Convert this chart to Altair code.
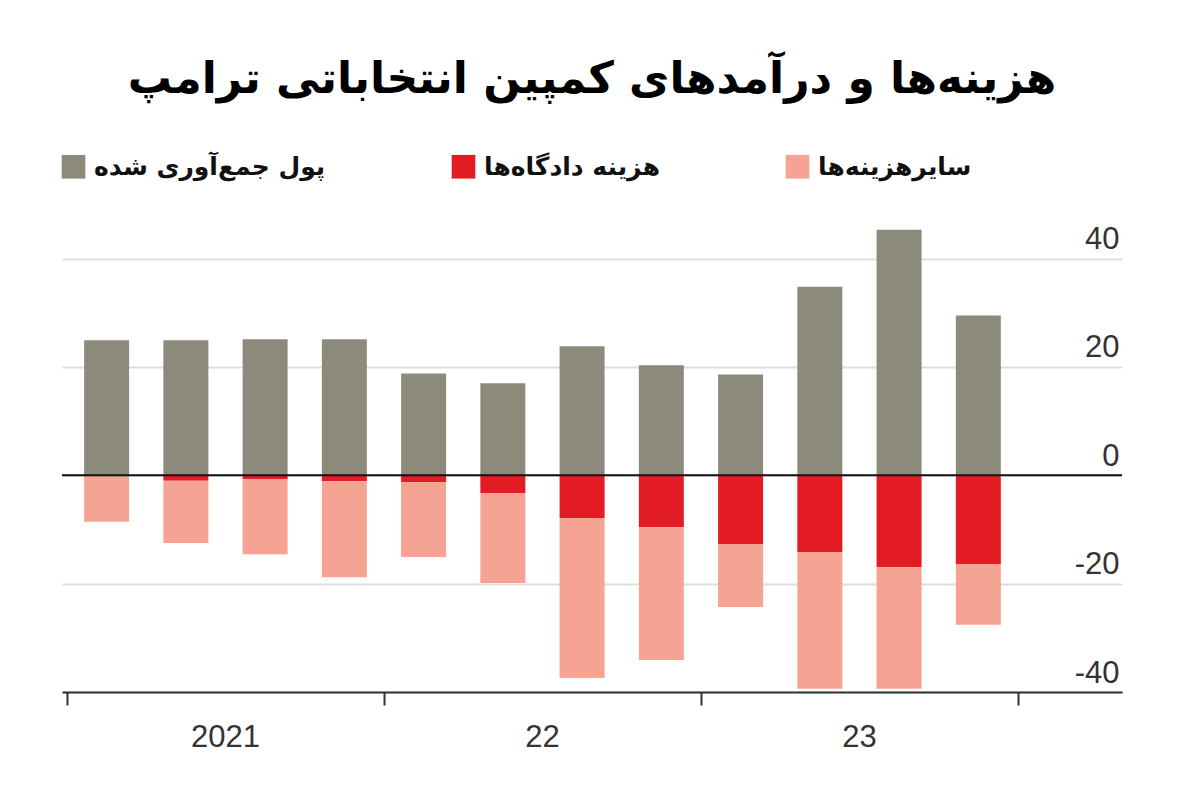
import altair as alt
import pandas as pd

# Quarterly values (million $), 2021 Q1 .. 2023 Q4
raised = [24.9, 24.9, 25.1, 25.1, 18.8, 17.0, 23.8, 20.3, 18.6, 34.8, 45.3, 29.5]
legal = [0.0, -1.0, -0.7, -1.1, -1.3, -3.3, -7.9, -9.6, -12.7, -14.2, -17.0, -16.4]
total_cost = [-8.6, -12.5, -14.6, -18.8, -15.1, -19.9, -37.4, -34.1, -24.3, -39.4, -39.4, -27.6]

series_names = ["پول جمع‌آوری شده", "هزینه دادگاه‌ها", "سایرهزینه‌ها"]
series_colors = ["#8c8b7b", "#e31b23", "#f5a392"]

year_labels = ["2021", "22", "23"]
year_pos = [2, 6, 10]
tick_vals = [0, 4, 8, 12]
y_ticks = [-40, -20, 0, 20, 40]

rows = []
for i in range(12):
    other = round(total_cost[i] - legal[i], 2)
    rows.append({"x": i + 0.5, "series": series_names[0], "value": raised[i], "ord": 0})
    rows.append({"x": i + 0.5, "series": series_names[1], "value": legal[i], "ord": 1})
    rows.append({"x": i + 0.5, "series": series_names[2], "value": other, "ord": 2})
df = pd.DataFrame(rows)
years_df = pd.DataFrame({"pos": year_pos, "label": year_labels, "base": [-40] * 3})

W, H = 1060, 466
xscale = alt.Scale(domain=[0, 13.25], nice=False, zero=False)
yscale = alt.Scale(domain=[-40, 46], nice=False, zero=False)

x_axis = alt.Axis(values=tick_vals, labels=False, title=None, grid=False,
                  domainColor="#333", domainWidth=2, tickColor="#333",
                  tickWidth=2, tickSize=13)
y_axis = alt.Axis(orient="right", values=y_ticks, title=None, domain=False,
                  ticks=False, tickSize=0, labelAlign="right", labelPadding=-3,
                  labelBaseline="alphabetic", labelOffset=-10,
                  labelExpr="datum.value + ''",
                  labelFont="Liberation Sans", labelFontSize=31,
                  labelColor="#333", gridColor="#dedede", gridWidth=2)

bars = alt.Chart(df).mark_bar(size=45).encode(
    x=alt.X("x:Q", scale=xscale, axis=x_axis),
    y=alt.Y("value:Q", scale=yscale, stack="zero", axis=y_axis),
    color=alt.Color("series:N",
                    scale=alt.Scale(domain=series_names, range=series_colors),
                    legend=alt.Legend(title=None, orient="none", direction="horizontal",
                                      legendX=-1, legendY=-72,
                                      symbolType="square", symbolSize=560,
                                      symbolStrokeWidth=0, symbolOpacity=1,
                                      labelFont="DejaVu Sans", labelFontWeight="bold",
                                      labelFontSize=25, labelColor="#111",
                                      labelOffset=8, columnPadding=125,
                                      labelLimit=400)),
    order=alt.Order("ord:Q"),
)

zero = alt.Chart(pd.DataFrame({"v": [0]})).mark_rule(color="#111", strokeWidth=2).encode(
    y=alt.Y("v:Q", scale=yscale, axis=y_axis)
)

years = alt.Chart(years_df).mark_text(
    dy=46, font="Liberation Sans", fontSize=31, color="#333", baseline="middle"
).encode(
    x=alt.X("pos:Q", scale=xscale, axis=x_axis),
    y=alt.Y("base:Q", scale=yscale, axis=y_axis),
    text="label:N",
)

chart = alt.layer(bars, zero, years).properties(
    width=W, height=H,
    background="white",
    title=alt.TitleParams("هزینه‌ها و درآمدهای کمپین انتخاباتی ترامپ",
                          font="DejaVu Sans", fontSize=44, fontWeight="bold",
                          color="#000", anchor="middle", offset=52),
    autosize=alt.AutoSizeParams(type="none"),
    padding={"left": 54, "top": 218, "right": 70, "bottom": 76},
).configure_view(stroke="transparent", strokeWidth=0)

chart.save("out.html", embed_options={"renderer": "svg", "actions": False})
